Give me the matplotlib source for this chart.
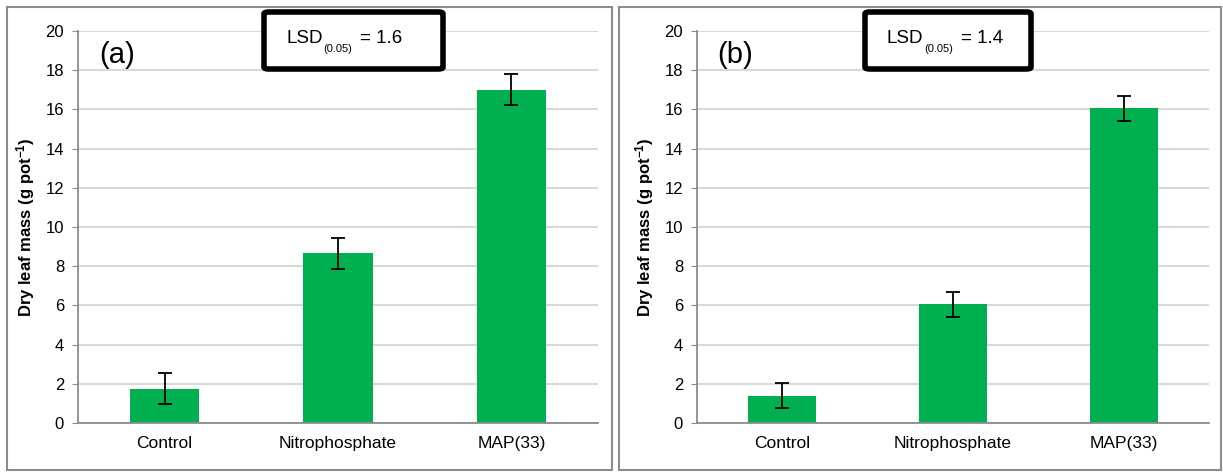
import matplotlib
matplotlib.use("Agg")
import matplotlib.pyplot as plt
from matplotlib.patches import Rectangle, FancyBboxPatch

plt.rcParams['font.family'] = ['Liberation Sans', 'DejaVu Sans']
plt.rcParams['mathtext.default'] = 'regular'

categories = ["Control", "Nitrophosphate", "MAP(33)"]
mass_a = [1.75, 8.65, 17.0]
err_a = [0.8, 0.8, 0.8]
mass_b = [1.4, 6.05, 16.05]
err_b = [0.65, 0.65, 0.65]
panel_labels = ["(a)", "(b)"]
lsd_values = ["1.6", "1.4"]

W, H = 1223, 473
fig = plt.figure(figsize=(W / 100, H / 100), dpi=100)


def px_box(x0, y0, x1, y1):
    # pixel coords (top-left origin) -> figure fraction [l, b, w, h]
    return [x0 / W, 1 - y1 / H, (x1 - x0) / W, (y1 - y0) / H]


def panel(ax_px, border_px, lsd_px, vals, errs, label, lsd):
    # grey frame round the whole panel
    bl, bb, bw, bh = px_box(*border_px)
    fig.patches.append(Rectangle((bl, bb), bw, bh, transform=fig.transFigure,
                                 fill=False, edgecolor="#8c8c8c", linewidth=1.5))

    ax = fig.add_axes(px_box(*ax_px))
    x = range(len(categories))
    ax.bar(x, vals, width=0.4, color="#00B050", zorder=2)
    ax.errorbar(x, vals, yerr=errs, fmt="none", ecolor="black",
                elinewidth=1.3, capsize=5, capthick=1.3, zorder=3)
    ax.set_xlim(-0.5, 2.5)
    ax.set_ylim(0, 20)
    ax.set_yticks(range(0, 21, 2))
    ax.set_xticks(list(x))
    ax.set_xticklabels(categories, fontsize=12.5)
    ax.tick_params(axis="y", labelsize=12, length=4, color="#8c8c8c", pad=6)
    ax.tick_params(axis="x", length=0, pad=9)
    ax.grid(axis="y", color="#d9d9d9", linewidth=1.5, zorder=0)
    ax.set_axisbelow(True)
    for s in ["top", "right"]:
        ax.spines[s].set_visible(False)
    for s in ["left", "bottom"]:
        ax.spines[s].set_color("#8c8c8c")
        ax.spines[s].set_linewidth(1.3)
    ax.set_ylabel("Dry leaf mass (g pot$^{-1}$)", fontsize=12, fontweight="bold", labelpad=6)
    ax.text(0.04, 0.975, label, transform=ax.transAxes, fontsize=21, va="top", ha="left")

    # LSD box with hand-placed subscript
    ll, lb, lw, lh = px_box(*lsd_px)
    fig.patches.append(FancyBboxPatch((ll, lb), lw, lh, transform=fig.transFigure,
                                      boxstyle="round,pad=0,rounding_size=0.004",
                                      fill=True, facecolor="white", edgecolor="black",
                                      linewidth=4, zorder=5))
    x0 = lsd_px[0]
    fig.text((x0 + 22) / W, 1 - 43 / H, "LSD", fontsize=13.5, va="baseline", zorder=6)
    fig.text((x0 + 59) / W, 1 - 52 / H, "(0.05)", fontsize=8, va="baseline", zorder=6)
    fig.text((x0 + 96) / W, 1 - 43 / H, "= " + lsd, fontsize=13.5, va="baseline", zorder=6)
    return ax


panel((78, 31, 598, 423), (7, 7, 612, 470), (264, 12, 443, 69),
      mass_a, err_a, panel_labels[0], lsd_values[0])
panel((697, 31, 1209, 423), (619, 7, 1221, 470), (865, 12, 1031, 69),
      mass_b, err_b, panel_labels[1], lsd_values[1])

fig.savefig("out.png", dpi=100)
